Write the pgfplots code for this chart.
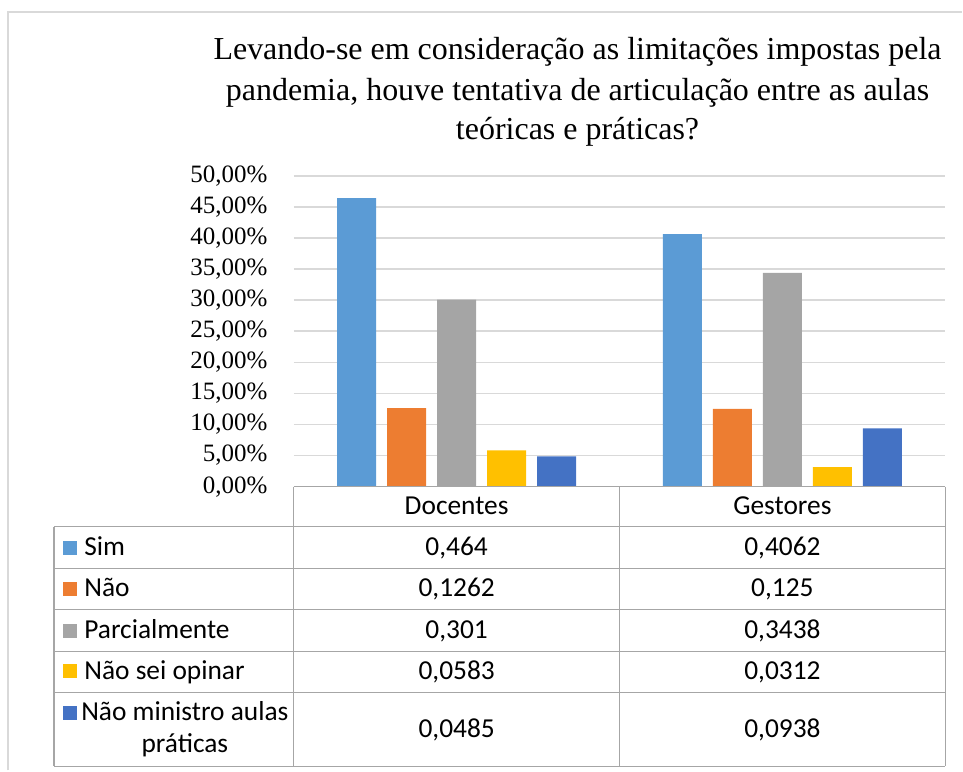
\documentclass[border=0pt]{standalone}
\usepackage{pgfplots}
\pgfplotsset{compat=1.18}
\usepackage{fontspec}
\setmainfont{Liberation Serif}
\newfontfamily\timesfont{Liberation Serif}
\newfontfamily\calibri{Carlito}

\definecolor{cSim}{HTML}{5B9BD5}
\definecolor{cNao}{HTML}{ED7D31}
\definecolor{cParc}{HTML}{A5A5A5}
\definecolor{cNsei}{HTML}{FFC000}
\definecolor{cNmin}{HTML}{4472C4}
\definecolor{gridgray}{HTML}{D9D9D9}
\definecolor{tabgray}{HTML}{A6A6A6}

\begin{document}
\begin{tikzpicture}
  \begin{axis}[
      name=ax, at={(0,0)}, anchor=south west,
      scale only axis, width=326pt, height=155.5pt,
      ybar=5.5pt, bar width=19.5pt,
      xmin=-0.5, xmax=1.5, ymin=0, ymax=0.5,
      xtick=\empty,
      ytick={0,0.05,0.1,0.15,0.2,0.25,0.3,0.35,0.4,0.45,0.5},
      yticklabel={\pgfmathparse{100*\tick}\pgfmathprintnumber[fixed,fixed zerofill,precision=2,use comma]{\pgfmathresult}\%},
      /pgf/number format/assume math mode=true,
      y tick label style={font=\timesfont\fontsize{12.5}{14}\selectfont, anchor=east, inner sep=0pt, xshift=-13pt},
      ymajorgrids, major grid style={draw=gridgray, line width=0.75pt},
      axis line style={draw=none}, major tick length=0pt,
      clip=false,
    ]
    % Docentes, Gestores
    \addplot[fill=cSim, draw=none]  coordinates {(0,0.464) (1,0.4062)};
    \addplot[fill=cNao, draw=none]  coordinates {(0,0.1262) (1,0.125)};
    \addplot[fill=cParc, draw=none] coordinates {(0,0.301) (1,0.3438)};
    \addplot[fill=cNsei, draw=none] coordinates {(0,0.0583) (1,0.0312)};
    \addplot[fill=cNmin, draw=none] coordinates {(0,0.0485) (1,0.0938)};
  \end{axis}

  % pixel coordinates of the reference, origin at the axis corner
  \begin{scope}[x=0.5pt, y=-0.5pt, shift={(-294,-487)}]
    \path (0,0) rectangle (963,771);
    \draw[gridgray, line width=0.75pt] (8,771) -- (8,12) -- (963,12);

    \begin{scope}[font=\timesfont\fontsize{16}{20}\selectfont]
      \node[anchor=base] at (578,60) {Levando-se em consideração as limitações impostas pela};
      \node[anchor=base] at (578,101) {pandemia, houve tentativa de articulação entre as aulas};
      \node[anchor=base] at (578,140) {teóricas e práticas?};
    \end{scope}

    % data table
    \begin{scope}[tabgray, line width=0.6pt]
      \draw (294,487) -- (946,487);
      \foreach \yy in {527,569,610,652,693,767} \draw (54,\yy) -- (946,\yy);
      \draw (54,527) -- (54,767);
      \foreach \xx in {294,620,946} \draw (\xx,487) -- (\xx,767);
    \end{scope}

    \begin{scope}[font=\calibri\fontsize{13.7}{16}\selectfont, inner sep=0pt]
      \node[anchor=base] at (457,515) {Docentes};
      \node[anchor=base] at (783,515) {Gestores};

      \fill[cSim]  (63,541) rectangle (77,555);
      \fill[cNao]  (63,582) rectangle (77,596);
      \fill[cParc] (63,624) rectangle (77,638);
      \fill[cNsei] (63,665) rectangle (77,679);
      \fill[cNmin] (63,707) rectangle (77,721);

      \node[anchor=base west] at (84,556) {Sim};
      \node[anchor=base west] at (84,597) {Não};
      \node[anchor=base west] at (84,639) {Parcialmente};
      \node[anchor=base west] at (84,680) {Não sei opinar};
      \node[anchor=base] at (185,721) {Não ministro aulas};
      \node[anchor=base] at (185,753) {práticas};

      \node[anchor=base] at (457,556) {0,464};
      \node[anchor=base] at (783,556) {0,4062};
      \node[anchor=base] at (457,597) {0,1262};
      \node[anchor=base] at (783,597) {0,125};
      \node[anchor=base] at (457,639) {0,301};
      \node[anchor=base] at (783,639) {0,3438};
      \node[anchor=base] at (457,680) {0,0583};
      \node[anchor=base] at (783,680) {0,0312};
      \node[anchor=base] at (457,738) {0,0485};
      \node[anchor=base] at (783,738) {0,0938};
    \end{scope}
  \end{scope}
\end{tikzpicture}
\end{document}
